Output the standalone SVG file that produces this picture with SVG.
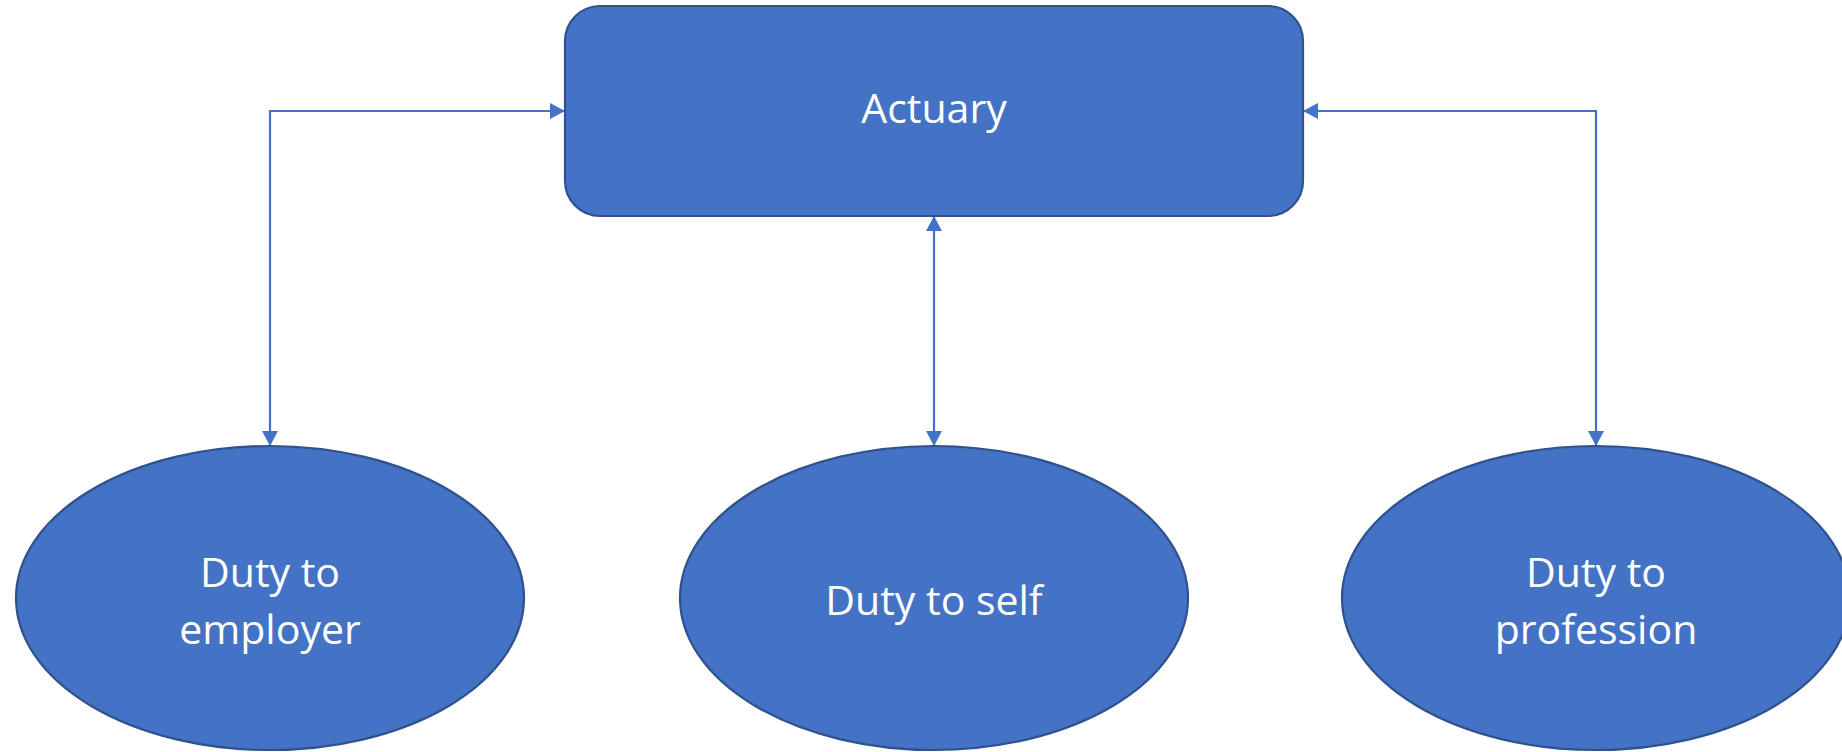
<svg xmlns="http://www.w3.org/2000/svg" width="1842" height="752" viewBox="0 0 1842 752">
  <style>
    .node { fill: #4472C4; stroke: #2F528F; stroke-width: 2.2; }
    .label { fill: #FFFFFF; font-family: "Open Sans", "Liberation Sans", sans-serif; font-size: 41px; text-anchor: middle; }
    .conn { fill: none; stroke: #4472C4; stroke-width: 2.2; marker-start: url(#arr); marker-end: url(#arr); }
  </style>
  <defs>
    <marker id="arr" markerUnits="userSpaceOnUse" markerWidth="17" markerHeight="17" viewBox="0 0 17 17" refX="15" refY="8.5" orient="auto-start-reverse">
      <path d="M0,0.5 L15,8.5 L0,16.5 Z" fill="#4472C4"/>
    </marker>
  </defs>
  <rect width="1842" height="752" fill="#FFFFFF"/>

  <g id="connectors">
    <path class="conn" d="M270,446 V111 H565"/>
    <path class="conn" d="M934,446 V216"/>
    <path class="conn" d="M1596,446 V111 H1303"/>
  </g>

  <g id="actuary">
    <rect class="node" x="565" y="6" width="738" height="210" rx="35" ry="35"/>
    <text class="label" x="934" y="123">Actuary</text>
  </g>

  <g id="duty-employer">
    <ellipse class="node" cx="270" cy="598" rx="254" ry="152"/>
    <text class="label" x="270" y="587">Duty to</text>
    <text class="label" x="270" y="644">employer</text>
  </g>

  <g id="duty-self">
    <ellipse class="node" cx="934" cy="598" rx="254" ry="152"/>
    <text class="label" x="934" y="615">Duty to self</text>
  </g>

  <g id="duty-profession">
    <ellipse class="node" cx="1596" cy="598" rx="254" ry="152"/>
    <text class="label" x="1596" y="587">Duty to</text>
    <text class="label" x="1596" y="644">profession</text>
  </g>
</svg>
